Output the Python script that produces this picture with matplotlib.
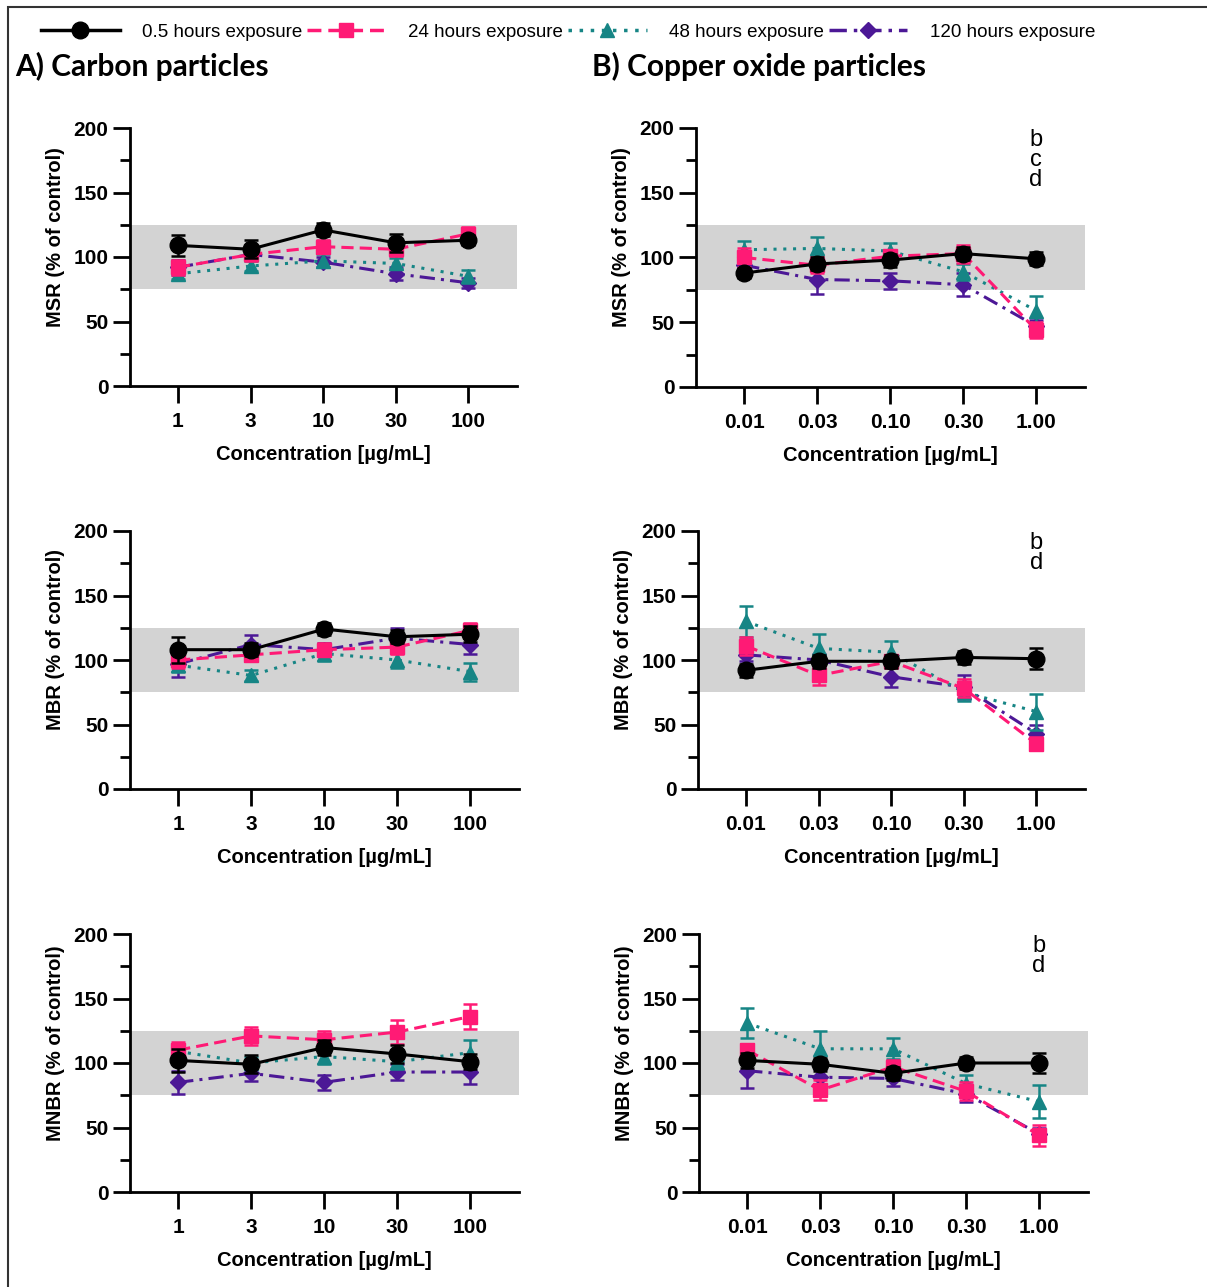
import matplotlib
matplotlib.use("Agg")
import matplotlib.pyplot as plt
from matplotlib.lines import Line2D
from matplotlib.patches import Rectangle
from matplotlib.ticker import MultipleLocator

plt.rcParams['font.family'] = ['Liberation Sans', 'DejaVu Sans']

# ---- data ----
carbon_ticks = ["1", "3", "10", "30", "100"]
copper_ticks = ["0.01", "0.03", "0.10", "0.30", "1.00"]
series_names = ["0.5 hours exposure", "24 hours exposure", "48 hours exposure", "120 hours exposure"]

# MSR - carbon
msr_c_h05 = [109, 106, 121, 111, 113]
msr_c_h24 = [92, 102, 108, 106, 118]
msr_c_h48 = [87, 93, 97, 95, 85]
msr_c_h120 = [92, 102, 96, 87, 80]
msr_c_err05 = [8, 7, 5, 7, 4]
msr_c_err24 = [6, 5, 5, 5, 5]
msr_c_err48 = [4, 4, 5, 4, 5]
msr_c_err120 = [6, 4, 4, 5, 4]

# MSR - copper oxide
msr_o_h05 = [88, 95, 98, 103, 99]
msr_o_h24 = [100, 94, 101, 103, 44]
msr_o_h48 = [106, 107, 105, 89, 59]
msr_o_h120 = [94, 83, 82, 79, 47]
msr_o_err05 = [4, 5, 5, 5, 5]
msr_o_err24 = [7, 6, 5, 7, 6]
msr_o_err48 = [7, 9, 6, 6, 11]
msr_o_err120 = [4, 11, 6, 9, 5]

# MBR - carbon
mbr_c_h05 = [108, 108, 124, 118, 120]
mbr_c_h24 = [100, 104, 108, 110, 123]
mbr_c_h48 = [96, 88, 105, 100, 91]
mbr_c_h120 = [97, 112, 108, 117, 112]
mbr_c_err05 = [10, 5, 5, 5, 6]
mbr_c_err24 = [6, 5, 5, 5, 6]
mbr_c_err48 = [5, 4, 6, 6, 7]
mbr_c_err120 = [10, 7, 5, 8, 7]

# MBR - copper oxide
mbr_o_h05 = [92, 99, 99, 102, 101]
mbr_o_h24 = [111, 88, 99, 78, 35]
mbr_o_h48 = [130, 109, 106, 75, 60]
mbr_o_h120 = [104, 100, 87, 79, 43]
mbr_o_err05 = [5, 5, 5, 5, 8]
mbr_o_err24 = [7, 7, 5, 7, 5]
mbr_o_err48 = [12, 11, 9, 7, 14]
mbr_o_err120 = [5, 5, 8, 9, 7]

# MNBR - carbon
mnbr_c_h05 = [102, 99, 112, 107, 101]
mnbr_c_h24 = [110, 121, 118, 124, 136]
mnbr_c_h48 = [109, 100, 105, 101, 108]
mnbr_c_h120 = [85, 92, 85, 93, 93]
mnbr_c_err05 = [9, 7, 6, 7, 6]
mnbr_c_err24 = [6, 7, 7, 9, 10]
mnbr_c_err48 = [6, 5, 6, 6, 10]
mnbr_c_err120 = [9, 6, 6, 6, 9]

# MNBR - copper oxide
mnbr_o_h05 = [102, 99, 92, 100, 100]
mnbr_o_h24 = [110, 79, 97, 78, 44]
mnbr_o_h48 = [131, 111, 111, 84, 70]
mnbr_o_h120 = [94, 89, 88, 76, 45]
mnbr_o_err05 = [6, 5, 5, 5, 8]
mnbr_o_err24 = [5, 8, 5, 7, 8]
mnbr_o_err48 = [12, 14, 8, 7, 13]
mnbr_o_err120 = [13, 6, 6, 6, 5]

sig_msr_o = ["b", "c", "d"]
sig_mbr_o = ["b", "d"]
sig_mnbr_o = ["b", "d"]

# ---- styles ----
colors = ["#000000", "#FF1A75", "#168585", "#4C1896"]
markers = ["o", "s", "^", "D"]
msizes = [12, 10.5, 10.5, 8.5]
lstyles = ["-", (0, (4, 2)), (0, (1, 2.2)), (0, (5, 2, 1, 2))]
draw_order = [3, 2, 1, 0]

W, H = 1207, 1287
fig = plt.figure(figsize=(W / 100, H / 100), dpi=100)


def rect(l, r, t, b):
    return [l / W, 1 - b / H, (r - l) / W, (b - t) / H]


def panel(box, ticks, ylab, means, errs, sig=None):
    ax = fig.add_axes(rect(*box))
    x = list(range(len(ticks)))
    ax.axhspan(75, 125, color="#d3d3d3", zorder=0, lw=0)
    for i in draw_order:
        ax.errorbar(x, means[i], yerr=errs[i], color=colors[i], marker=markers[i],
                    ms=msizes[i], ls=lstyles[i], lw=2.2, elinewidth=1.8,
                    capsize=5, capthick=1.8, zorder=2 + (3 - i))
    ax.set_xlim(-0.66, 4.67)
    ax.set_ylim(0, 200)
    ax.yaxis.set_major_locator(MultipleLocator(50))
    ax.yaxis.set_minor_locator(MultipleLocator(25))
    ax.set_xticks(x)
    ax.set_xticklabels(ticks, fontweight="bold")
    for lab in ax.get_yticklabels():
        lab.set_fontweight("bold")
    ax.tick_params(axis="both", which="major", length=12, width=2, labelsize=15)
    ax.tick_params(axis="y", which="minor", length=7, width=2)
    ax.tick_params(axis="x", pad=7)
    ax.spines["top"].set_visible(False)
    ax.spines["right"].set_visible(False)
    ax.spines["left"].set_linewidth(2)
    ax.spines["bottom"].set_linewidth(2)
    ax.set_xlabel("Concentration [µg/mL]", fontsize=14.5, fontweight="bold", labelpad=10)
    ax.set_ylabel(ylab, fontsize=14.5, fontweight="bold", labelpad=6)
    ax.yaxis.label.set_y(0.578)
    if sig:
        ax.text(4, 199.5, "\n".join(sig), fontsize=17, ha="center", va="top", linespacing=0.88)
    return ax


panel((130, 517, 128, 386), carbon_ticks, "MSR (% of control)",
      [msr_c_h05, msr_c_h24, msr_c_h48, msr_c_h120],
      [msr_c_err05, msr_c_err24, msr_c_err48, msr_c_err120])
panel((696, 1085, 128, 387), copper_ticks, "MSR (% of control)",
      [msr_o_h05, msr_o_h24, msr_o_h48, msr_o_h120],
      [msr_o_err05, msr_o_err24, msr_o_err48, msr_o_err120], sig_msr_o)
panel((130, 519, 531, 789), carbon_ticks, "MBR (% of control)",
      [mbr_c_h05, mbr_c_h24, mbr_c_h48, mbr_c_h120],
      [mbr_c_err05, mbr_c_err24, mbr_c_err48, mbr_c_err120])
panel((698, 1085, 531, 789), copper_ticks, "MBR (% of control)",
      [mbr_o_h05, mbr_o_h24, mbr_o_h48, mbr_o_h120],
      [mbr_o_err05, mbr_o_err24, mbr_o_err48, mbr_o_err120], sig_mbr_o)
panel((130, 519, 934, 1192), carbon_ticks, "MNBR (% of control)",
      [mnbr_c_h05, mnbr_c_h24, mnbr_c_h48, mnbr_c_h120],
      [mnbr_c_err05, mnbr_c_err24, mnbr_c_err48, mnbr_c_err120])
panel((699, 1088, 934, 1192), copper_ticks, "MNBR (% of control)",
      [mnbr_o_h05, mnbr_o_h24, mnbr_o_h48, mnbr_o_h120],
      [mnbr_o_err05, mnbr_o_err24, mnbr_o_err48, mnbr_o_err120], sig_mnbr_o)

# titles
fig.text(15 / W, 1 - 66 / H, "A) Carbon particles", fontsize=21.5, fontweight="bold",
         family=["Lato", "DejaVu Sans"], va="center", ha="left")
fig.text(592 / W, 1 - 66 / H, "B) Copper oxide particles", fontsize=21.5, fontweight="bold",
         family=["Lato", "DejaVu Sans"], va="center", ha="left")

# legend
handles = [Line2D([], [], color=colors[i], marker=markers[i], ms=msizes[i], ls=lstyles[i], lw=2.5)
           for i in range(4)]
fig.legend(handles, series_names, loc="center", bbox_to_anchor=(568 / W, 1 - 32 / H), ncol=4,
           frameon=False, fontsize=13.5, handlelength=4.2, handletextpad=1.2,
           columnspacing=0.25, borderaxespad=0)

# frame around the figure
fig.add_artist(Rectangle((8 / W, -0.01), 1.2, 1 - 7 / H + 0.01, transform=fig.transFigure,
                         fill=False, lw=1.5, ec="#333333"))

fig.savefig("out.png", dpi=100)
